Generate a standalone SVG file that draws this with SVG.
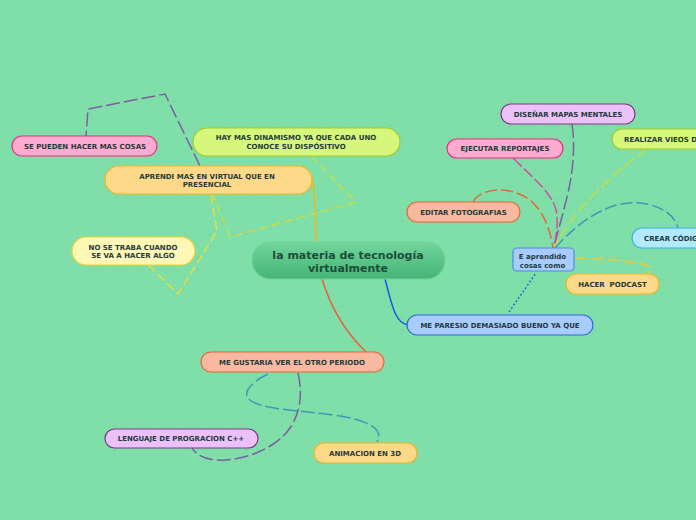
<svg xmlns="http://www.w3.org/2000/svg" width="696" height="520" viewBox="0 0 696 520">
<defs>
<pattern id="dots" width="12" height="12" patternUnits="userSpaceOnUse">
<circle cx="6" cy="6" r="0.8" fill="#6ccb95"/>
</pattern>
<linearGradient id="cg" x1="0" y1="0" x2="0" y2="1">
<stop offset="0" stop-color="#72d69d"/>
<stop offset="1" stop-color="#45b474"/>
</linearGradient>
<style>
.n text{font-family:"DejaVu Sans",sans-serif;font-weight:bold;font-size:7px;fill:#1f3b3b;text-anchor:middle}
.c path{fill:none;stroke-width:1.5}
.lime rect{fill:#d6f77c;stroke:#9fcb2c}
.orange rect{fill:#ffd98a;stroke:#f2b51e}
.pink rect{fill:#ffaad0;stroke:#e2307f}
.yellow rect{fill:#fff7b5;stroke:#ecd22c}
.salmon rect{fill:#f8b9a0;stroke:#e5673a}
.purple rect{fill:#ecc0f8;stroke:#7a3a88}
.blue rect{fill:#a9ccff;stroke:#2a6ad8}
.cyan rect{fill:#b2e9ff;stroke:#3aaee6}
.n rect{stroke-width:1.2}
</style>
</defs>
<rect width="696" height="520" fill="#80dfa8"/>
<rect width="696" height="520" fill="url(#dots)"/>
<g id="connectors" class="c">
<path d="M311,178 C315,184 315,205 316,242" stroke="#f2b51e"/>
<path d="M311,156 L356,202 L230,237 L213,195" stroke="#c5dd45" stroke-dasharray="9,4"/>
<path d="M211,195 L217,231 L178,294 L148,265" stroke="#e3e040" stroke-dasharray="9,4"/>
<path d="M200,166 L165,94 L88,109 L86,136" stroke="#7a5fa0" stroke-dasharray="14,4"/>
<path d="M322,279 C330,305 345,332 366,352" stroke="#e8603a"/>
<path d="M385,279 C392,305 395,323 408,325" stroke="#1a5ae0"/>
<path d="M509,312 L536,273" stroke="#2a6ad8" stroke-width="2" stroke-dasharray="2,2"/>
<path d="M572,124 C576,150 572,180 565,205 C560,225 556,238 554,248" stroke="#7a5fa0" stroke-dasharray="14,4"/>
<path d="M513,158 C535,180 555,195 557,215 C558,230 555,240 554,248" stroke="#d050a0" stroke-dasharray="12,3"/>
<path d="M647,149 C610,175 570,215 554,248" stroke="#c5dd45" stroke-dasharray="12,4"/>
<path d="M473,202 C480,188 510,185 530,200 C545,213 550,230 553,248" stroke="#e5673a" stroke-dasharray="12,4"/>
<path d="M555,248 C580,220 610,200 640,203 C660,205 675,215 678,228" stroke="#3a9ab8" stroke-dasharray="12,4"/>
<path d="M575,258 C610,259 648,262 650,268 C651,271 649,273 647,275" stroke="#f0c830" stroke-dasharray="12,4"/>
<path d="M298,373 C302,390 302,410 290,428 C275,450 240,462 215,460 C205,459 196,455 192,448" stroke="#7a5fa0" stroke-dasharray="14,4"/>
<path d="M268,374 C255,380 240,392 250,400 C262,410 300,410 340,416 C365,420 385,428 377,442" stroke="#3a9ab8" stroke-dasharray="14,4"/>
</g>
<g id="central">
<rect x="252" y="242" width="193" height="37" rx="18.5" fill="url(#cg)" stroke="#6ad597" stroke-width="1.2"/>
<text x="348" y="259" font-family="DejaVu Sans,sans-serif" font-weight="bold" font-size="11" fill="#1c4d3a" text-anchor="middle">la materia de tecnología</text>
<text x="348" y="272" font-family="DejaVu Sans,sans-serif" font-weight="bold" font-size="11" fill="#1c4d3a" text-anchor="middle">virtualmente</text>
</g>
<g id="n-dinamismo" class="n lime">
<rect x="193" y="128" width="207" height="28" rx="14"/>
<text x="296" y="140">HAY MAS DINAMISMO YA QUE CADA UNO</text>
<text x="296" y="149">CONOCE SU DISPÓSITIVO</text>
</g>
<g id="n-aprendi" class="n orange">
<rect x="105" y="166" width="207" height="28" rx="14"/>
<text x="207" y="179">APRENDI MAS EN VIRTUAL QUE EN</text>
<text x="207" y="187">PRESENCIAL</text>
</g>
<g id="n-sepueden" class="n pink">
<rect x="12" y="136" width="145" height="20" rx="10"/>
<text x="85" y="148.5">SE PUEDEN HACER MAS COSAS</text>
</g>
<g id="n-notraba" class="n yellow">
<rect x="72" y="237" width="123" height="28" rx="14"/>
<text x="133" y="249.5">NO SE TRABA CUANDO</text>
<text x="133" y="258">SE VA A HACER ALGO</text>
</g>
<g id="n-gustaria" class="n salmon">
<rect x="201" y="352" width="183" height="20" rx="10"/>
<text x="292" y="364.5">ME GUSTARIA VER EL OTRO PERIODO</text>
</g>
<g id="n-lenguaje" class="n purple">
<rect x="105" y="429" width="153" height="19" rx="9.5"/>
<text x="181" y="441">LENGUAJE DE PROGRACION C++</text>
</g>
<g id="n-animacion" class="n orange">
<rect x="314" y="443" width="103" height="20" rx="10"/>
<text x="365" y="455.5">ANIMACION EN 3D</text>
</g>
<g id="n-paresio" class="n blue">
<rect x="407" y="315" width="186" height="20" rx="10"/>
<text x="500" y="327.5">ME PARESIO DEMASIADO BUENO YA QUE</text>
</g>
<g id="n-aprendido" class="n blue">
<rect x="513" y="248" width="61" height="23" rx="4" style="stroke:#4a8ae8"/>
<text x="542.5" y="259">E aprendido</text>
<text x="542.5" y="267.5">cosas como</text>
</g>
<g id="n-disenar" class="n purple">
<rect x="501" y="104" width="134" height="20" rx="10"/>
<text x="568" y="116.5">DISEÑAR MAPAS MENTALES</text>
</g>
<g id="n-ejecutar" class="n pink">
<rect x="447" y="139" width="116" height="19" rx="9.5"/>
<text x="505" y="151">EJECUTAR REPORTAJES</text>
</g>
<g id="n-realizar" class="n lime">
<rect x="612" y="129" width="140" height="20" rx="10"/>
<text x="624" y="141.5" style="text-anchor:start">REALIZAR VIEOS D</text>
</g>
<g id="n-editar" class="n salmon">
<rect x="407" y="202" width="113" height="20" rx="10"/>
<text x="463.5" y="214.5">EDITAR FOTOGRAFIAS</text>
</g>
<g id="n-crear" class="n cyan">
<rect x="632" y="228" width="120" height="20" rx="10"/>
<text x="644" y="240.5" style="text-anchor:start">CREAR CÓDIGO</text>
</g>
<g id="n-podcast" class="n orange">
<rect x="566" y="274" width="93" height="20" rx="10"/>
<text x="612.5" y="286.5" xml:space="preserve">HACER  PODCAST</text>
</g>
</svg>
